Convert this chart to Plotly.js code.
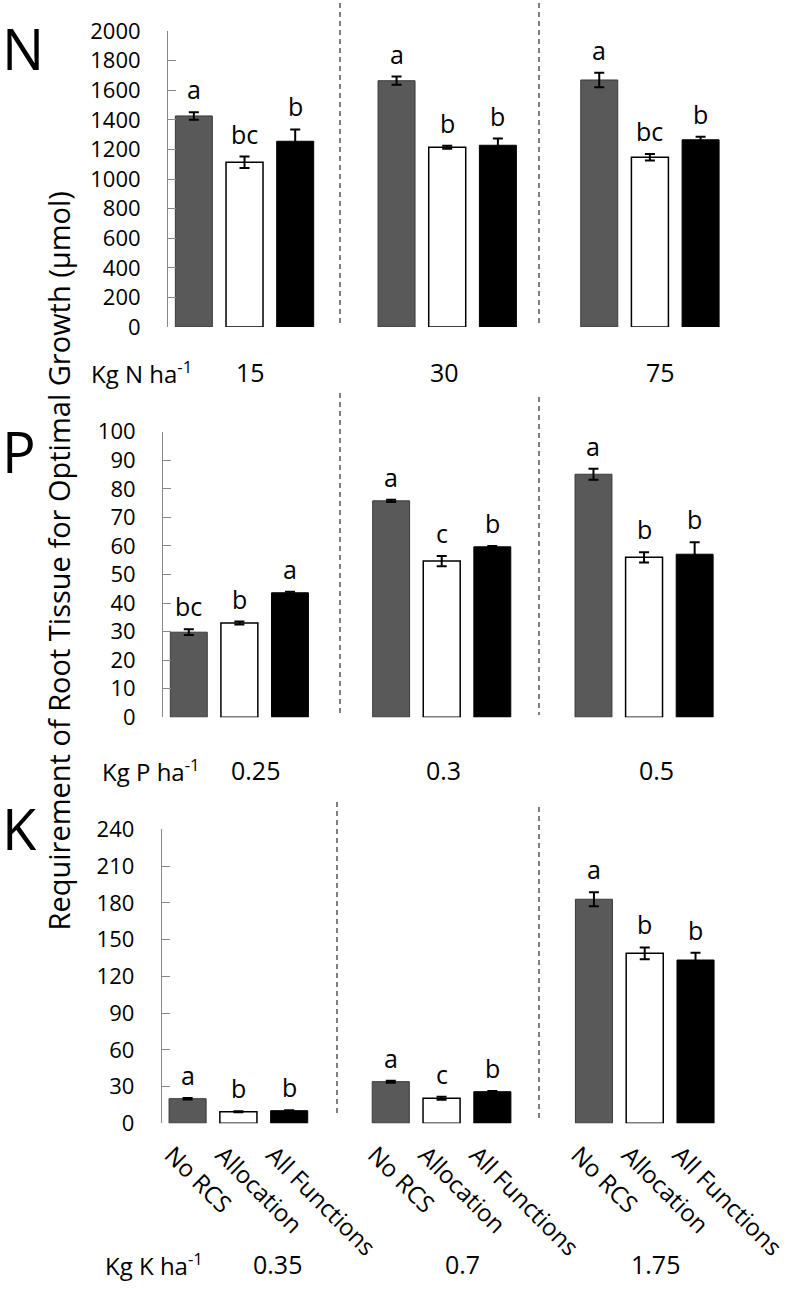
<!DOCTYPE html>
<html>
<head>
<meta charset="utf-8">
<script src="https://cdn.plot.ly/plotly-3.0.1.min.js"></script>
<style>html,body{margin:0;padding:0;background:#fff;}#chart{width:789px;height:1294px;}</style>
</head>
<body>
<div id="chart"></div>
<script>
// ---- data ----
const treatments = ['No RCS', 'Allocation', 'All Functions'];
const positions = [[0, 4, 8], [1, 5, 9], [2, 6, 10]];

const nLevels = ['15', '30', '75'];
const nNoRCS = [1426, 1664, 1669];
const nAlloc = [1113, 1214, 1147];
const nAllFn = [1255, 1228, 1265];
const nNoRCSErr = [25, 28, 49];
const nAllocErr = [39, 10, 22];
const nAllFnErr = [80, 45, 20];
const nNoRCSLet = ['a', 'a', 'a'];
const nAllocLet = ['bc', 'b', 'bc'];
const nAllFnLet = ['b', 'b', 'b'];

const pLevels = ['0.25', '0.3', '0.5'];
const pNoRCS = [29.8, 75.8, 85.1];
const pAlloc = [33.0, 54.7, 56.0];
const pAllFn = [43.6, 59.7, 57.1];
const pNoRCSErr = [1.0, 0.4, 1.9];
const pAllocErr = [0.5, 1.8, 1.8];
const pAllFnErr = [0.4, 0.3, 4.2];
const pNoRCSLet = ['bc', 'a', 'a'];
const pAllocLet = ['b', 'c', 'b'];
const pAllFnLet = ['a', 'b', 'b'];

const kLevels = ['0.35', '0.7', '1.75'];
const kNoRCS = [20.1, 34.0, 182.9];
const kAlloc = [9.5, 20.4, 138.8];
const kAllFn = [10.3, 25.8, 133.3];
const kNoRCSErr = [0.6, 0.8, 5.7];
const kAllocErr = [0.4, 1.2, 4.8];
const kAllFnErr = [0.4, 0.6, 6.0];
const kNoRCSLet = ['a', 'a', 'a'];
const kAllocLet = ['b', 'c', 'b'];
const kAllFnLet = ['b', 'b', 'b'];

const yTitle = 'Requirement of Root Tissue for Optimal Growth (µmol)';

// ---- styling ----
const W = 789, H = 1294;
const FONT = 'Open Sans, Liberation Sans, sans-serif';
const px = v => v / W;
const py = v => 1 - v / H;
const fills = ['#595959', '#ffffff', '#000000'];
const outlines = ['#3a3a3a', '#000000', '#000000'];

const panels = [
  {key: '', vals: [nNoRCS, nAlloc, nAllFn], errs: [nNoRCSErr, nAllocErr, nAllFnErr], lets: [nNoRCSLet, nAllocLet, nAllFnLet],
   levels: nLevels, nutrient: 'N', range: [0, 2000], dtick: 200, xl: 168, xr: 731, yt: 31, yb: 327,
   labY: 372, kgX: 89, levX: [250, 444, 660], letter: {x: 0, y: 48},
   dashes: [[340, 3, 323], [539, 3, 323]]},
  {key: '2', vals: [pNoRCS, pAlloc, pAllFn], errs: [pNoRCSErr, pAllocErr, pAllFnErr], lets: [pNoRCSLet, pAllocLet, pAllFnLet],
   levels: pLevels, nutrient: 'P', range: [0, 100], dtick: 10, xl: 163, xr: 725, yt: 431.7, yb: 717.3,
   labY: 770, kgX: 100, levX: [255, 443, 656], letter: {x: 0, y: 451},
   dashes: [[340, 393, 713], [539, 397, 715]]},
  {key: '3', vals: [kNoRCS, kAlloc, kAllFn], errs: [kNoRCSErr, kAllocErr, kAllFnErr], lets: [kNoRCSLet, kAllocLet, kAllFnLet],
   levels: kLevels, nutrient: 'K', range: [0, 240], dtick: 30, xl: 161.7, xr: 726, yt: 829.3, yb: 1123.3,
   labY: 1264, kgX: 103, levX: [277, 462, 655], letter: {x: 0, y: 828},
   dashes: [[337, 802, 1115], [539, 807, 1120]]}
];

const traces = [];
const annotations = [];
const shapes = [];
const layout = {
  width: W, height: H,
  margin: {l: 0, r: 0, t: 0, b: 0},
  paper_bgcolor: '#fff', plot_bgcolor: 'rgba(0,0,0,0)',
  showlegend: false,
  font: {family: FONT, color: '#000'},
  bargap: 0
};

panels.forEach((p, pi) => {
  const xa = 'x' + p.key, ya = 'y' + p.key;
  const isLast = pi === panels.length - 1;
  for (let s = 0; s < 3; s++) {
    traces.push({
      type: 'bar', x: positions[s], y: p.vals[s], xaxis: xa, yaxis: ya,
      width: 0.73,
      marker: {color: fills[s], line: {color: outlines[s], width: s === 1 ? 1.5 : 1}},
      error_y: {type: 'data', array: p.errs[s], visible: true, color: '#000', thickness: 2, width: 5},
      hoverinfo: 'skip'
    });
    for (let g = 0; g < 3; g++) {
      annotations.push({
        xref: xa, yref: ya, x: positions[s][g], y: p.vals[s][g] + p.errs[s][g],
        text: p.lets[s][g], showarrow: false, xanchor: 'center', yanchor: 'bottom', yshift: 4,
        font: {size: 25, family: FONT, color: '#000'}
      });
    }
  }
  const allPos = positions[0].map((_, g) => [positions[0][g], positions[1][g], positions[2][g]]).flat();
  const allText = allPos.map((_, i) => treatments[i % 3]);
  layout['xaxis' + p.key] = {
    domain: [px(p.xl), px(p.xr)], range: [-0.51, 10.6], anchor: ya,
    showline: false, zeroline: false, showgrid: false, ticks: '',
    showticklabels: isLast, tickmode: 'array', tickvals: allPos, ticktext: allText,
    tickangle: 45, tickfont: {size: 24, family: FONT, color: '#000'}, automargin: false,
    ticklabeloverflow: 'allow', ticklabelshift: -16, ticklabelstandoff: 12
  };
  layout['yaxis' + p.key] = {
    domain: [py(p.yb), py(p.yt)], range: p.range, dtick: p.dtick, tick0: 0, anchor: xa,
    showline: true, linecolor: '#888', linewidth: 1, ticks: 'inside', ticklen: 8, tickcolor: '#888',
    showgrid: false, zeroline: false, ticklabelstandoff: 22,
    tickfont: {size: 22, family: FONT, color: '#000'}, automargin: false, ticklabeloverflow: 'allow'
  };
  // group labels
  annotations.push({xref: 'paper', yref: 'paper', x: px(p.kgX), y: py(p.labY), xanchor: 'left', yanchor: 'middle',
    text: 'Kg ' + p.nutrient + ' ha<sup>-1</sup>', showarrow: false, font: {size: 24, family: FONT, color: '#000'}});
  p.levels.forEach((lv, g) => {
    annotations.push({xref: 'paper', yref: 'paper', x: px(p.levX[g]), y: py(p.labY), xanchor: 'center', yanchor: 'middle',
      text: lv, showarrow: false, font: {size: 25, family: FONT, color: '#000'}});
  });
  // panel letter
  annotations.push({xref: 'paper', yref: 'paper', x: px(p.letter.x), y: py(p.letter.y), xanchor: 'left', yanchor: 'middle',
    text: p.nutrient, showarrow: false, font: {size: 56, family: FONT, color: '#000'}});
  // dashed separators
  p.dashes.forEach(d => {
    shapes.push({type: 'line', xref: 'paper', yref: 'paper', x0: px(d[0]), x1: px(d[0]), y0: py(d[1]), y1: py(d[2]),
      line: {color: '#555', width: 1.5, dash: '5px,4px'}});
  });
});

annotations.push({xref: 'paper', yref: 'paper', x: px(57.5), y: py(561), xanchor: 'center', yanchor: 'middle',
  text: yTitle, textangle: -90, showarrow: false, font: {size: 29, family: FONT, color: '#000'}});

layout.annotations = annotations;
layout.shapes = shapes;

Plotly.newPlot('chart', traces, layout, {staticPlot: true, displayModeBar: false});
</script>
</body>
</html>
